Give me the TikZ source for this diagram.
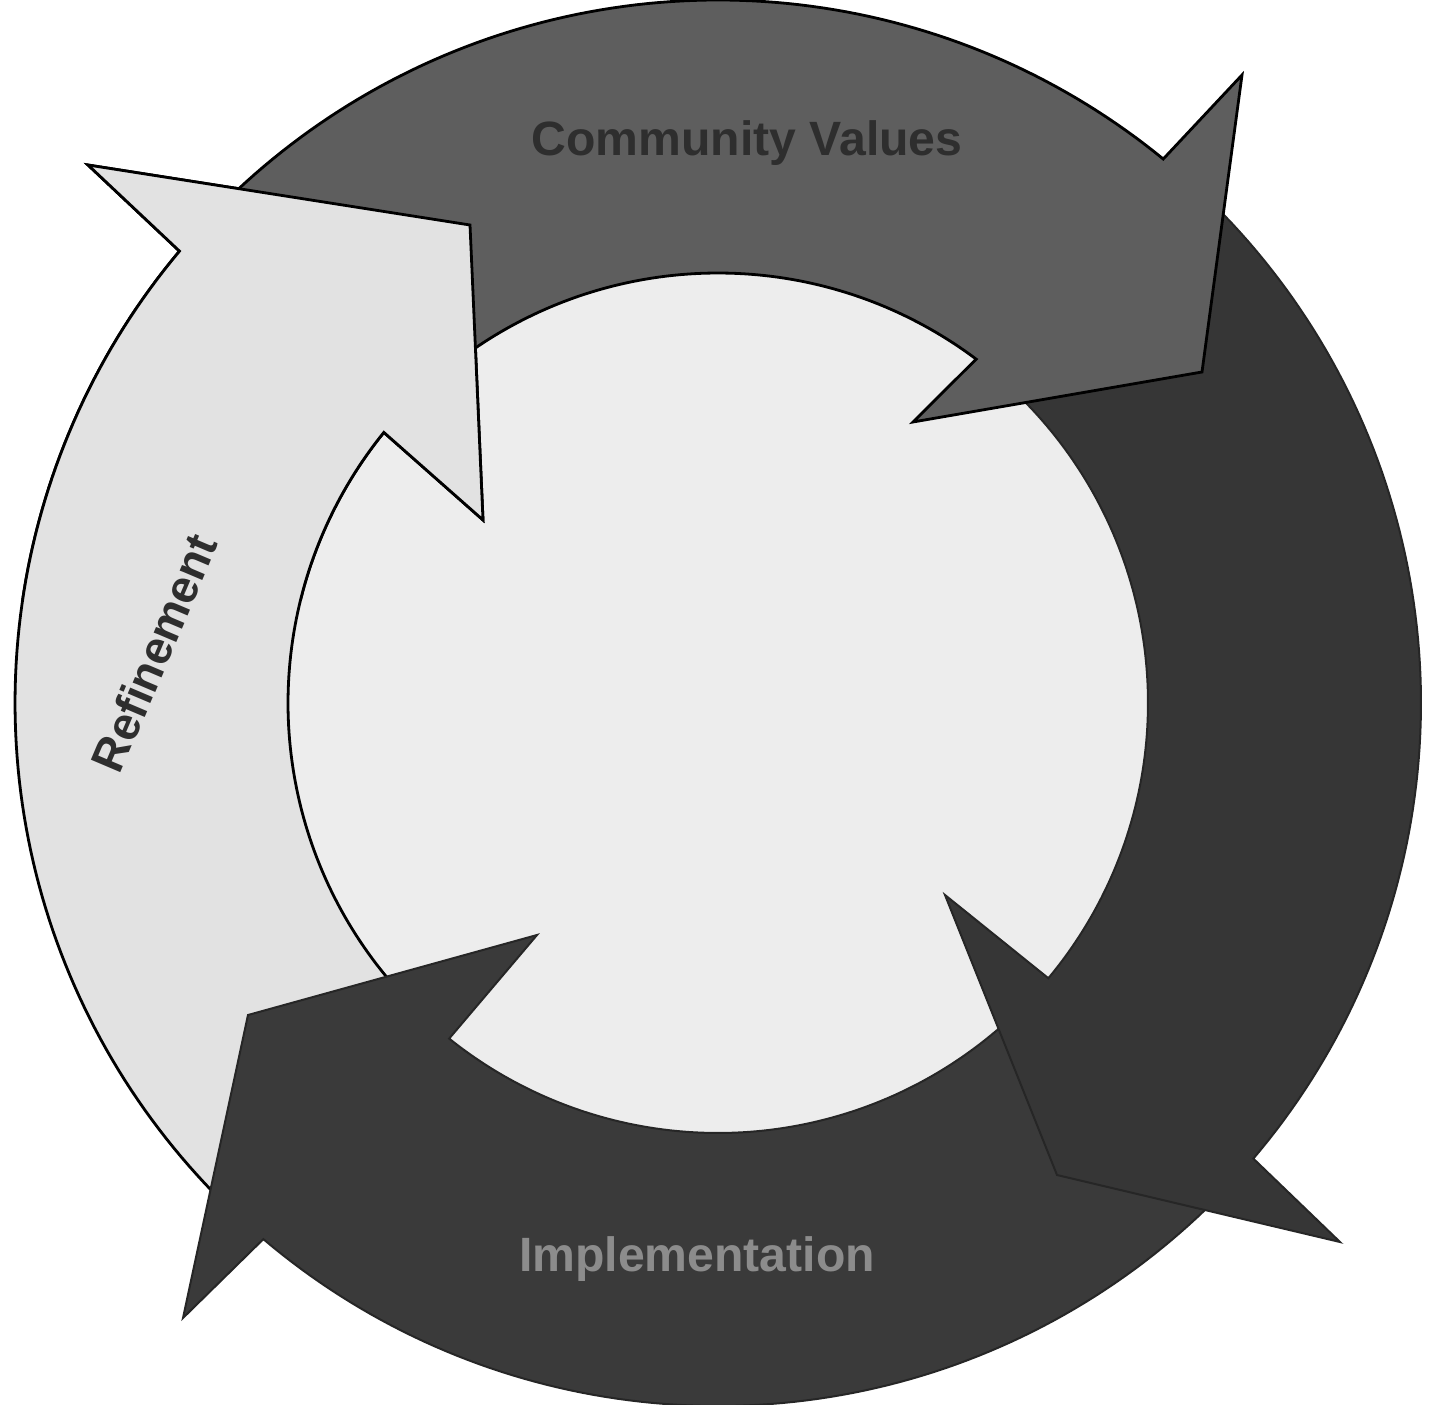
\documentclass[tikz,border=0pt]{standalone}
\usepackage{fontspec}
\setmainfont{Liberation Sans}
\definecolor{cvfill}{HTML}{5E5E5E}
\definecolor{polfill}{HTML}{363636}
\definecolor{impfill}{HTML}{3A3A3A}
\definecolor{reffill}{HTML}{E2E2E2}
\definecolor{hubfill}{HTML}{EDEDED}
\definecolor{darktext}{HTML}{2E2E2E}
\definecolor{imptext}{HTML}{8C8C8C}
\begin{document}
\begin{tikzpicture}[x=0.1mm,y=-0.1mm,
  litedge/.style={line width=0.28mm, line join=miter, draw=black},
  darkedge/.style={line width=0.2mm, line join=miter, draw=black!85},
  lbl/.style={font=\bfseries\fontsize{13.7}{16}\selectfont, inner sep=0pt}]
\useasboundingbox (0,0) rectangle (1442,1405);
\fill[white] (0,0) rectangle (1442,1405);
\coordinate (c) at (718,703);
\fill[hubfill] (c) circle[radius=430];
% Refinement arrow (light)
\path[litedge, fill=reffill]
  plot[domain=134:220, samples=90, variable=\t] ({718+703*cos(\t)},{703+703*sin(\t)})
  -- (88,165) -- (470,225) -- (483,520)
  -- plot[domain=219:134, samples=90, variable=\t] ({718+430*cos(\t)},{703+430*sin(\t)}) -- cycle;
% Implementation arrow (dark)
\path[darkedge, fill=impfill]
  plot[domain=44:130.3, samples=90, variable=\t] ({718+703*cos(\t)},{703+703*sin(\t)})
  -- (183,1318) -- (248,1015) -- (537,935)
  -- plot[domain=128.7:44, samples=90, variable=\t] ({718+430*cos(\t)},{703+430*sin(\t)}) -- cycle;
% Right arrow (darkest)
\path[darkedge, fill=polfill]
  plot[domain=-48:40.4, samples=90, variable=\t] ({718+703*cos(\t)},{703+703*sin(\t)})
  -- (1340,1242) -- (1057,1175) -- (945,895)
  -- plot[domain=39.8:-48, samples=90, variable=\t] ({718+430*cos(\t)},{703+430*sin(\t)}) -- cycle;
% Community Values arrow (medium)
\path[litedge, fill=cvfill]
  plot[domain=-136:-50.7, samples=90, variable=\t] ({718+703*cos(\t)},{703+703*sin(\t)})
  -- (1242,75) -- (1202,372) -- (913,422)
  -- plot[domain=-53.1:-136, samples=90, variable=\t] ({718+430*cos(\t)},{703+430*sin(\t)}) -- cycle;
% Refinement head again, over the Community Values tail
\begin{scope}
  \clip (0,0) rectangle (600,600);
  \path[litedge, fill=reffill]
    plot[domain=134:220, samples=90, variable=\t] ({718+703*cos(\t)},{703+703*sin(\t)})
    -- (88,165) -- (470,225) -- (483,520)
    -- plot[domain=219:134, samples=90, variable=\t] ({718+430*cos(\t)},{703+430*sin(\t)}) -- cycle;
\end{scope}
% Labels
\node[lbl, text=darktext, anchor=base] (cv) at (747,156) {Community Values};
\node[lbl, text=imptext, anchor=base] (impl) at (697,1271) {Implementation};
\node[lbl, text=darktext, font=\bfseries\fontsize{13.2}{16}\selectfont, rotate=67] (ref) at (154,653) {Refinement};
\end{tikzpicture}
\end{document}
